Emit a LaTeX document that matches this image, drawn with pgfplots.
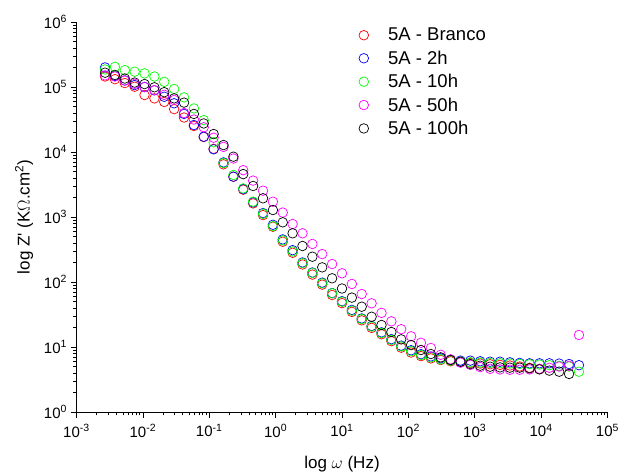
\documentclass[border=0pt]{standalone}
\usepackage{pgfplots}
\pgfplotsset{compat=1.18}
\usepackage{pgfplotstable}
\usepackage{fontspec}
\setmainfont{Liberation Sans}
\definecolor{cRed}{RGB}{255,0,0}
\definecolor{cBlue}{RGB}{0,0,255}
\definecolor{cGreen}{RGB}{0,255,0}
\definecolor{cPink}{RGB}{255,0,255}

\pgfplotstableread{
f z
0.002692 1.45e5
0.003793 1.32e5
0.005346 1.15e5
0.007516 1.01e5
0.01059 7.53e4
0.01493 6.68e4
0.02099 5.89e4
0.02958 4.57e4
0.04169 3.39e4
0.05875 2.51e4
0.0826 1.70e4
0.1164 1.12e4
0.1641 6.46e3
0.2312 4.17e3
0.3251 2.63e3
0.4581 1.62e3
0.6457 1.07e3
0.9099 708
1.279 417
1.803 282
2.541 186
3.581 130
5.035 91.2
7.096 63.1
10.0 47.3
14.09 34.7
19.82 25.7
27.93 19.7
39.36 15.7
55.46 12.3
77.98 9.77
109.9 8.22
154.9 7.24
218.3 6.68
306.9 6.31
432.5 6.03
609.5 5.89
859.0 5.69
1208 5.56
1702 5.43
2399 5.31
3381 5.19
4753 5.01
6699 4.79
9441 4.57
}\dataRed

\pgfplotstableread{
f z
0.002692 2.00e5
0.003793 1.48e5
0.005346 1.26e5
0.007516 1.07e5
0.01059 1.00e5
0.01493 8.91e4
0.02099 7.08e4
0.02958 5.62e4
0.04169 3.85e4
0.05875 2.60e4
0.0826 1.72e4
0.1164 1.10e4
0.1641 6.92e3
0.2312 4.17e3
0.3251 2.69e3
0.4581 1.68e3
0.6457 1.15e3
0.9099 759
1.279 452
1.803 309
2.541 200
3.581 140
5.035 97.7
7.096 67.6
10.0 50.7
14.09 37.2
19.82 27.5
27.93 21.1
39.36 16.8
55.46 13.2
77.98 10.5
109.9 8.91
154.9 7.76
218.3 7.16
306.9 6.70
432.5 6.31
609.5 6.17
859.0 6.17
1208 6.03
1702 5.94
2399 5.94
3381 5.81
4753 5.69
6699 5.61
9441 5.61
13300 5.61
18710 5.56
26360 5.47
37150 5.25
}\dataBlue

\pgfplotstableread{
f z
0.002692 1.86e5
0.003793 2.04e5
0.005346 1.82e5
0.007516 1.72e5
0.01059 1.62e5
0.01493 1.45e5
0.02099 1.20e5
0.02958 9.33e4
0.04169 6.92e4
0.05875 4.68e4
0.0826 3.09e4
0.1164 1.41e4
0.1641 6.76e3
0.2312 4.43e3
0.3251 2.75e3
0.4581 1.72e3
0.6457 1.12e3
0.9099 724
1.279 437
1.803 295
2.541 195
3.581 138
5.035 95.5
7.096 67.0
10.0 49.8
14.09 36.3
19.82 26.9
27.93 20.7
39.36 16.4
55.46 12.9
77.98 10.2
109.9 8.61
154.9 7.53
218.3 6.93
306.9 6.46
432.5 6.17
609.5 5.96
859.0 5.82
1208 5.75
1702 5.69
2399 5.62
3381 5.56
4753 5.50
6699 5.43
9441 5.37
13300 5.25
18710 5.13
26360 5.01
37150 4.17
}\dataGreen

\pgfplotstableread{
f z
0.002692 1.51e5
0.003793 1.45e5
0.005346 1.26e5
0.007516 1.12e5
0.01059 1.00e5
0.01493 8.91e4
0.02099 7.59e4
0.02958 6.31e4
0.04169 3.98e4
0.05875 3.16e4
0.0826 2.40e4
0.1164 1.66e4
0.1641 1.20e4
0.2312 7.94e3
0.3251 5.25e3
0.4581 3.63e3
0.6457 2.54e3
0.9099 1.72e3
1.279 1.17e3
1.803 780
2.541 561
3.581 385
5.035 269
7.096 189
10.0 136
14.09 93.3
19.82 65.3
27.93 47.0
39.36 33.5
55.46 24.8
77.98 18.8
109.9 14.6
154.9 11.6
218.3 9.66
306.9 7.59
432.5 6.46
609.5 5.75
859.0 5.31
1208 4.90
1702 4.62
2399 4.52
3381 4.47
4753 4.47
6699 4.52
9441 4.62
13300 4.79
18710 5.01
26360 5.13
37150 15.3
}\dataPink

\pgfplotstableread{
f z
0.002692 1.66e5
0.003793 1.53e5
0.005346 1.35e5
0.007516 1.17e5
0.01059 1.11e5
0.01493 9.89e4
0.02099 8.32e4
0.02958 6.68e4
0.04169 5.75e4
0.05875 3.85e4
0.0826 2.75e4
0.1164 1.89e4
0.1641 1.28e4
0.2312 8.47e3
0.3251 4.57e3
0.4581 3.00e3
0.6457 1.94e3
0.9099 1.28e3
1.279 828
1.803 561
2.541 358
3.581 245
5.035 168
7.096 114
10.0 79.4
14.09 57.5
19.82 41.7
27.93 29.2
39.36 21.8
55.46 17.0
77.98 13.1
109.9 10.7
154.9 8.99
218.3 7.80
306.9 6.93
432.5 6.31
609.5 5.94
859.0 5.47
1208 5.16
1702 4.98
2399 4.86
3381 4.81
4753 4.81
6699 4.70
9441 4.53
13300 4.33
18710 4.17
26360 3.85
}\dataBlack

\begin{document}
\begin{tikzpicture}
\useasboundingbox (0,0) rectangle (618bp,472bp);
\begin{axis}[
  at={(76.5bp,60bp)}, anchor=south west,
  scale only axis, width=531bp, height=390bp,
  xmode=log, ymode=log,
  xmin=1e-3, xmax=1e5, ymin=1, ymax=1e6,
  axis x line*=bottom, axis y line*=left,
  axis line style={-, line width=0.8pt, black},
  tick align=outside,
  major tick length=6bp, minor tick length=3.5bp,
  every tick/.style={black, line width=0.7pt},
  xtick={1e-3,1e-2,1e-1,1,1e1,1e2,1e3,1e4,1e5},
  xticklabels={10\textsuperscript{-3},10\textsuperscript{-2},10\textsuperscript{-1},10\textsuperscript{0},10\textsuperscript{1},10\textsuperscript{2},10\textsuperscript{3},10\textsuperscript{4},10\textsuperscript{5}},
  ytick={1,1e1,1e2,1e3,1e4,1e5,1e6},
  yticklabels={10\textsuperscript{0},10\textsuperscript{1},10\textsuperscript{2},10\textsuperscript{3},10\textsuperscript{4},10\textsuperscript{5},10\textsuperscript{6}},
  minor xtick={2e-3,3e-3,4e-3,5e-3,6e-3,7e-3,8e-3,9e-3,
    2e-2,3e-2,4e-2,5e-2,6e-2,7e-2,8e-2,9e-2,
    0.2,0.3,0.4,0.5,0.6,0.7,0.8,0.9,
    2,3,4,5,6,7,8,9,
    20,30,40,50,60,70,80,90,
    200,300,400,500,600,700,800,900,
    2000,3000,4000,5000,6000,7000,8000,9000,
    20000,30000,40000,50000,60000,70000,80000,90000},
  minor ytick={2,3,4,5,6,7,8,9,
    20,30,40,50,60,70,80,90,
    200,300,400,500,600,700,800,900,
    2000,3000,4000,5000,6000,7000,8000,9000,
    20000,30000,40000,50000,60000,70000,80000,90000,
    200000,300000,400000,500000,600000,700000,800000,900000},
  ticklabel style={font=\fontsize{15bp}{18bp}\selectfont},
  xticklabel style={yshift=-3bp},
  xlabel={log $\omega$ (Hz)},
  ylabel={log Z\textquotesingle\ (K$\Omega$.cm\textsuperscript{2})},
  label style={font=\fontsize{17bp}{20bp}\selectfont},
  xlabel style={yshift=-12bp},
  ylabel style={yshift=4bp},
  clip=false,
  legend cell align=left,
  legend style={draw=none, fill=none, at={(0.525,0.995)}, anchor=north west,
    font=\fontsize{18.5bp}{21bp}\selectfont, row sep=4.5bp},
  legend image code/.code={\draw[#1] plot coordinates {(0bp,0bp)}; \path (-5bp,0bp) (22bp,0bp);},
]
\addplot[only marks, mark=o, mark size=4.8bp, line width=0.7pt, cRed] table {\dataRed};
\addlegendentry{5A - Branco}
\addplot[only marks, mark=o, mark size=4.8bp, line width=0.7pt, cBlue] table {\dataBlue};
\addlegendentry{5A - 2h}
\addplot[only marks, mark=o, mark size=4.8bp, line width=0.7pt, cGreen] table {\dataGreen};
\addlegendentry{5A - 10h}
\addplot[only marks, mark=o, mark size=4.8bp, line width=0.7pt, cPink] table {\dataPink};
\addlegendentry{5A - 50h}
\addplot[only marks, mark=o, mark size=4.8bp, line width=0.7pt, black] table {\dataBlack};
\addlegendentry{5A - 100h}
\end{axis}
\end{tikzpicture}
\end{document}
